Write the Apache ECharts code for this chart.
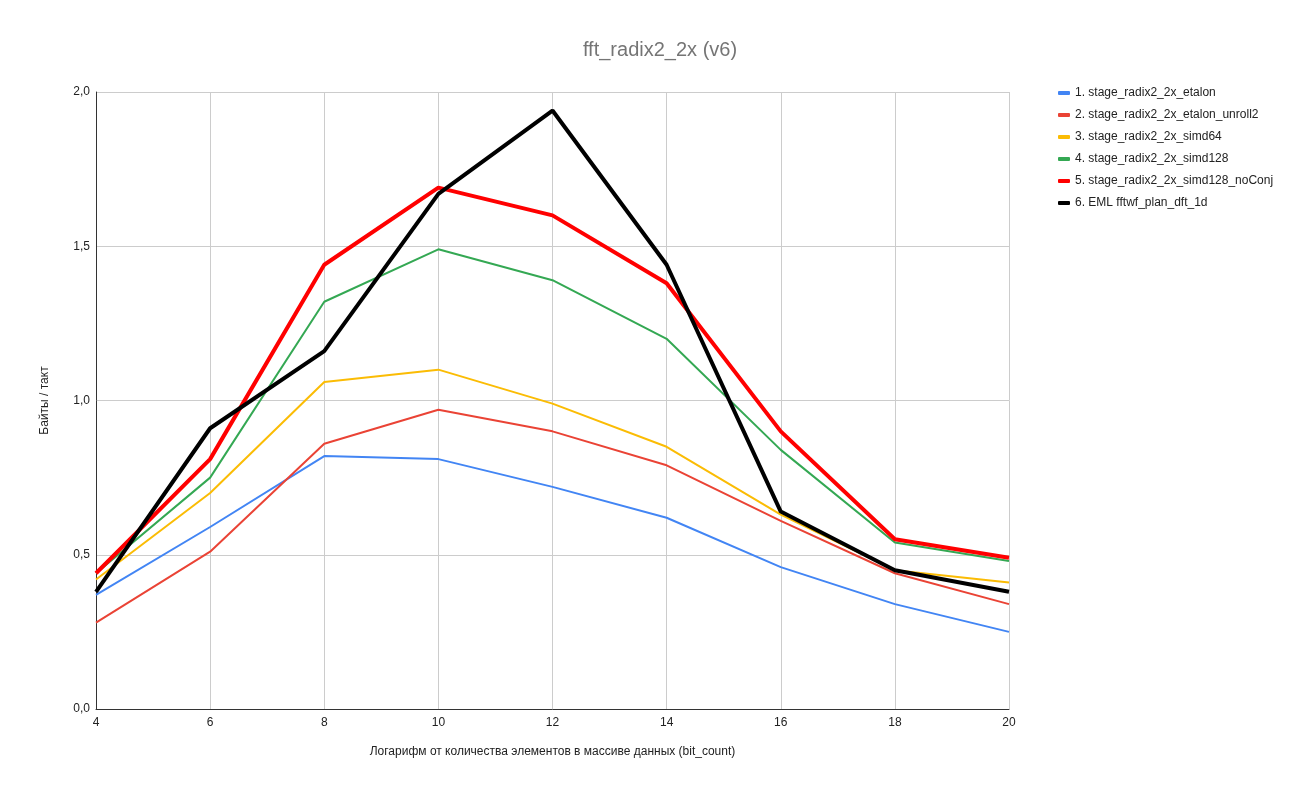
<!DOCTYPE html>
<html>
<head>
<meta charset="utf-8">
<script src="https://cdn.jsdelivr.net/npm/echarts@6/dist/echarts.min.js"></script>
<style>
html, body { margin: 0; padding: 0; background: #fff; }
#main { width: 1300px; height: 795px; }
</style>
</head>
<body>
<div id="main"></div>
<script>
// данные
var bitCount = [4, 6, 8, 10, 12, 14, 16, 18, 20];
var etalon = [0.37, 0.59, 0.82, 0.81, 0.72, 0.62, 0.46, 0.34, 0.25];
var etalonUnroll2 = [0.28, 0.51, 0.86, 0.97, 0.90, 0.79, 0.61, 0.44, 0.34];
var simd64 = [0.42, 0.70, 1.06, 1.10, 0.99, 0.85, 0.63, 0.45, 0.41];
var simd128 = [0.44, 0.75, 1.32, 1.49, 1.39, 1.20, 0.84, 0.54, 0.48];
var simd128NoConj = [0.44, 0.81, 1.44, 1.69, 1.60, 1.38, 0.90, 0.55, 0.49];
var emlFftw = [0.38, 0.91, 1.16, 1.67, 1.94, 1.44, 0.64, 0.45, 0.38];

var names = ['1. stage_radix2_2x_etalon', '2. stage_radix2_2x_etalon_unroll2',
    '3. stage_radix2_2x_simd64', '4. stage_radix2_2x_simd128',
    '5. stage_radix2_2x_simd128_noConj', '6. EML fftwf_plan_dft_1d'];
var colors = ['#4285F4', '#EA4335', '#FBBC04', '#34A853', '#FF0000', '#000000'];
var widths = [2, 2, 2, 2, 4, 4];
var allData = [etalon, etalonUnroll2, simd64, simd128, simd128NoConj, emlFftw];

function pairs(arr){
    var res = [];
    for (var i = 0; i < bitCount.length; i++) res.push([bitCount[i], arr[i]]);
    return res;
}

var font = 'Arial, "Liberation Sans", sans-serif';
var chart = echarts.init(document.getElementById('main'));

var series = [];
for (var i = 0; i < allData.length; i++) {
    series.push({
        name: names[i],
        type: 'line',
        data: pairs(allData[i]),
        showSymbol: false,
        symbol: 'none',
        lineStyle: { color: colors[i], width: widths[i] },
        itemStyle: { color: colors[i] },
        z: 2 + i
    });
}

var option = {
    backgroundColor: '#fff',
    animation: false,
    title: {
        text: 'fft_radix2_2x (v6)',
        left: 655,
        top: 35,
        textAlign: 'center',
        textStyle: { color: '#757575', fontSize: 20, fontWeight: 'normal', fontFamily: font }
    },
    legend: {
        orient: 'vertical',
        left: 1053,
        top: 82,
        itemGap: 10,
        itemWidth: 12,
        itemHeight: 4,
        icon: 'roundRect',
        textStyle: { color: '#222', fontSize: 12, fontFamily: font },
        data: names
    },
    grid: { left: 96, right: 291, top: 92, bottom: 86 },
    xAxis: {
        type: 'value',
        min: 4,
        max: 20,
        interval: 2,
        name: 'Логарифм от количества элементов в массиве данных (bit_count)',
        nameLocation: 'middle',
        nameGap: 37,
        nameTextStyle: { color: '#222', fontSize: 12, fontFamily: font },
        axisLine: { lineStyle: { color: '#333', width: 1 } },
        axisTick: { show: false },
        axisLabel: { color: '#222', fontSize: 12, fontFamily: font, margin: 8 },
        splitLine: { show: true, lineStyle: { color: '#cccccc', width: 1 } }
    },
    yAxis: {
        type: 'value',
        min: 0,
        max: 2,
        interval: 0.5,
        name: 'Байты / такт',
        nameLocation: 'middle',
        nameGap: 45,
        nameTextStyle: { color: '#222', fontSize: 12, fontFamily: font },
        axisLine: { show: true, lineStyle: { color: '#333', width: 1 } },
        axisTick: { show: false },
        axisLabel: {
            color: '#222', fontSize: 12, fontFamily: font, margin: 6,
            formatter: function (v) { return v.toFixed(1).replace('.', ','); }
        },
        splitLine: { show: true, lineStyle: { color: '#cccccc', width: 1 } }
    },
    series: series
};

chart.setOption(option);
</script>
</body>
</html>
